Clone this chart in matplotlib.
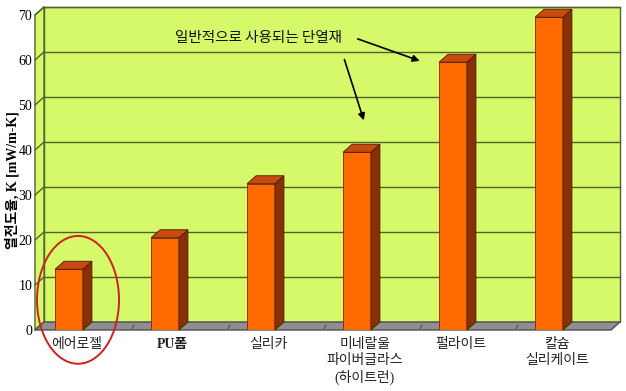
import matplotlib
matplotlib.use("Agg")
import matplotlib.pyplot as plt
from matplotlib.patches import Polygon, Ellipse
import numpy as np

categories = ["에어로젤", "PU폼", "실리카", "미네랄울\n파이버글라스\n(하이트런)", "펄라이트", "칼슘\n실리케이트"]
values = [13.5, 20.5, 32.5, 39.5, 59.5, 69.5]
yticks = [0, 10, 20, 30, 40, 50, 60, 70]

plt.rcParams['font.family'] = ['Liberation Serif', 'Noto Sans CJK KR', 'DejaVu Sans']

wall = "#d6f96a"
grid_c = "#55602f"
front_c = "#ff6a00"
side_c = "#8a3000"
top_c = "#c84a10"

fig = plt.figure(figsize=(6.26, 3.91), dpi=100)
ax = fig.add_axes([35/626, 61/391, 576/626, 315/391])
ax.set_xlim(-0.354, 5.646)
ax.set_ylim(0, 70)
ax.patch.set_visible(False)
for s in ax.spines.values():
    s.set_visible(False)

x0, x1 = -0.354, 5.646
dx, dy = 0.094, 1.78  # depth offset

# back wall, left wall, floor
ax.add_patch(Polygon([(x0+dx, dy), (x1+dx, dy), (x1+dx, 70+dy), (x0+dx, 70+dy)],
                     closed=True, fc=wall, ec=grid_c, lw=1.0, zorder=0, clip_on=False))
ax.add_patch(Polygon([(x0, 0), (x0+dx, dy), (x0+dx, 70+dy), (x0, 70)],
                     closed=True, fc=wall, ec=grid_c, lw=1.0, zorder=0, clip_on=False))
ax.add_patch(Polygon([(x0, 0), (x1, 0), (x1+dx, dy), (x0+dx, dy)],
                     closed=True, fc="#8e8e8e", ec="#505050", lw=1.0, zorder=1, clip_on=False))

for t in yticks[1:]:
    ax.plot([x0+dx, x1+dx], [t+dy, t+dy], color=grid_c, lw=1.0, zorder=0.5, clip_on=False)
for t in yticks:
    ax.plot([x0, x0+dx], [t, t+dy], color=grid_c, lw=1.0, zorder=0.5, clip_on=False)

# small separators on the floor
for i in range(5):
    xs = i + 0.65
    ax.plot([xs, xs + dx*0.3], [0.2, dy*0.6], color="#505050", lw=0.7, zorder=1.5)

# 3D-looking bars
w = 0.29
x = np.arange(len(values))
ax.bar(x, values, width=w, color=front_c, edgecolor="#7a2a00", lw=0.6, zorder=3)
for xi, v in zip(x, values):
    r = xi + w/2
    l = xi - w/2
    ax.add_patch(Polygon([(r, 0), (r+dx, dy), (r+dx, v+dy), (r, v)], closed=True,
                         fc=side_c, ec="#4a1a00", lw=0.6, zorder=3, clip_on=False))
    ax.add_patch(Polygon([(l, v), (r, v), (r+dx, v+dy), (l+dx, v+dy)], closed=True,
                         fc=top_c, ec="#4a1a00", lw=0.6, zorder=3, clip_on=False))

ax.set_yticks(yticks)
ax.set_yticklabels([str(t) for t in yticks], fontsize=10)
ax.set_xticks(x + 0.08)
ax.set_xticklabels(categories, fontsize=10, color="#222222", linespacing=1.25)
ax.get_xticklabels()[1].set_fontweight("bold")
ax.tick_params(axis="both", length=0)
ax.tick_params(axis="x", pad=6)
ax.tick_params(axis="y", pad=2)

fig.text(12/626, 1 - 180/391, "열전도율, K [mW/m-K]", rotation=90, ha="center", va="center",
         fontsize=10, fontweight="bold")

# annotation
ax.text(1.97, 64.9, "일반적으로 사용되는 단열재", ha="center", va="center", fontsize=10.5,
        family=["Noto Sans CJK KR", "DejaVu Sans"], color="#111111", zorder=5)
ax.annotate("", xy=(3.68, 59.6), xytext=(2.98, 64.9),
            arrowprops=dict(arrowstyle="-|>", color="black", lw=1.2, mutation_scale=10), zorder=5)
ax.annotate("", xy=(3.08, 46.0), xytext=(2.86, 60.7),
            arrowprops=dict(arrowstyle="-|>", color="black", lw=1.2, mutation_scale=10), zorder=5)

# red circle around aerogel
ax.add_patch(Ellipse((0.094, 6.7), 0.854, 28.4, fill=False, ec="#d02020", lw=1.4,
                     zorder=6, clip_on=False))

fig.savefig("out.png", dpi=100, facecolor="white")
